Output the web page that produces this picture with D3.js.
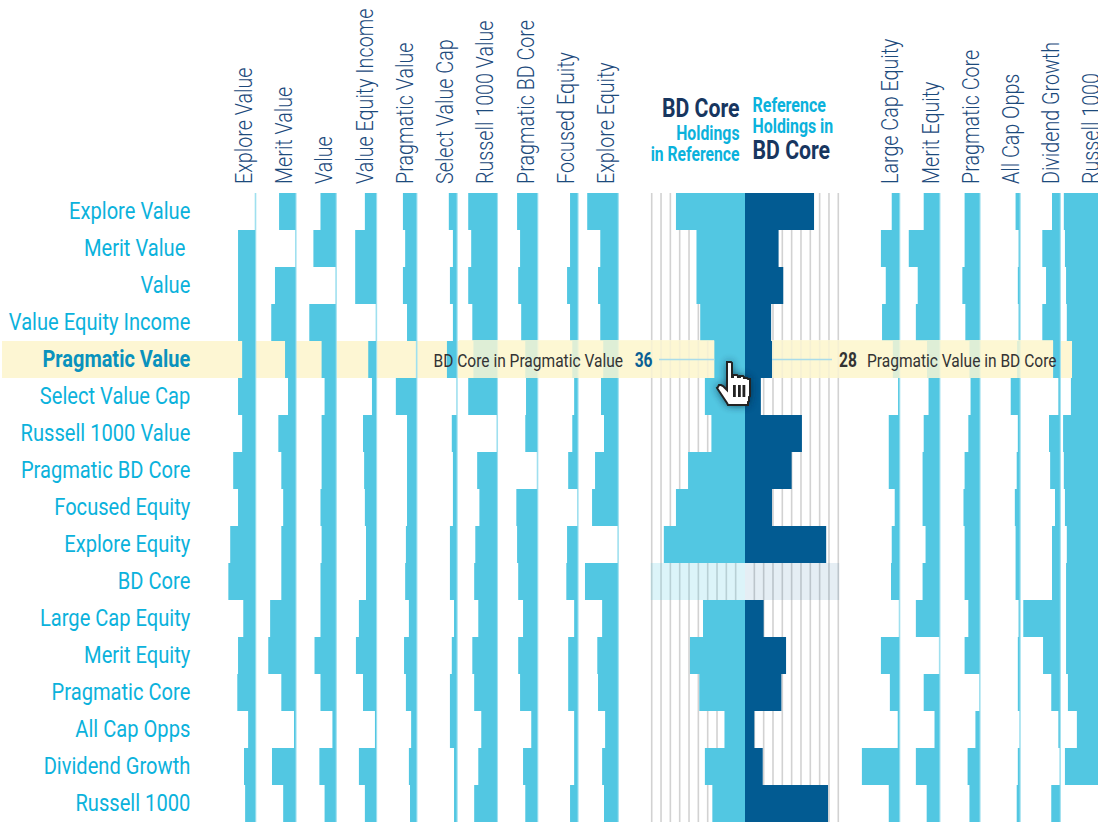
<!DOCTYPE html>
<html><head><meta charset="utf-8">
<script src="https://cdn.jsdelivr.net/npm/d3@7"></script>
<style>
html,body{margin:0;padding:0;background:#fff;overflow:hidden}
svg{display:block;font-family:Roboto,sans-serif}
text{white-space:pre}
</style></head><body>
<svg id="c" width="1098" height="822"></svg>
<script>
const rowNames=["Explore Value","Merit Value ","Value","Value Equity Income","Pragmatic Value","Select Value Cap","Russell 1000 Value","Pragmatic BD Core","Focused Equity","Explore Equity","BD Core","Large Cap Equity","Merit Equity","Pragmatic Core","All Cap Opps","Dividend Growth","Russell 1000"];
const leftColumns=["Explore Value","Merit Value","Value","Value Equity Income","Pragmatic Value","Select Value Cap","Russell 1000 Value","Pragmatic BD Core","Focused Equity","Explore Equity"];
const rightColumns=["Large Cap Equity","Merit Equity","Pragmatic Core","All Cap Opps","Dividend Growth","Russell 1000"];
// each array: overlap % per row, top to bottom
const exploreValue=[0,46,46,46,35,46,35,59,46,67,72,32,46,48,19,30,27];
const meritValue=[44,0,55,65,28,20,46,38,33,38,38,68,73,38,4,63,33];
const valueFund=[41,60,0,71,38,30,38,38,41,38,41,41,57,41,9,44,30];
const valueEquityIncome=[30,56,56,0,21,11,35,32,30,27,27,46,54,35,3,46,30];
const pragmaticValue=[36,30,36,25,0,55,25,25,25,28,30,20,33,28,14,20,17];
const selectValueCap=[21,10,18,10,26,0,13,10,10,18,18,7,13,18,18,7,7];
const russell1000Value=[77,69,77,66,63,77,0,53,47,58,61,50,66,61,42,50,61];
const pragmaticBDCore=[54,46,51,43,32,30,32,0,56,54,51,38,51,46,16,38,32];
const focusedEquity=[20,20,28,20,14,9,14,25,0,28,30,9,25,25,9,9,20];
const exploreEquity=[82,47,53,47,39,45,37,61,69,0,88,42,55,53,34,42,37];
const largeCapEquity=[20,49,36,46,17,3,28,28,12,20,22,0,49,25,4,100,28];
const meritEquity=[42,82,58,63,33,29,42,45,45,37,45,63,0,42,13,63,34];
const pragmaticCore=[40,40,46,38,27,24,30,40,43,40,40,30,40,0,11,32,27];
const allCapOpps=[11,3,5,3,7,24,5,8,13,11,11,3,5,5,0,5,8];
const dividendGrowth=[21,47,37,47,18,4,29,26,13,21,21,98,45,23,4,0,23];
const russell1000=[97,94,91,89,75,78,99,97,94,89,91,91,91,86,62,94,0];
const leftValues=[exploreValue,meritValue,valueFund,valueEquityIncome,pragmaticValue,selectValueCap,russell1000Value,pragmaticBDCore,focusedEquity,exploreEquity];
const rightValues=[largeCapEquity,meritEquity,pragmaticCore,allCapOpps,dividendGrowth,russell1000];
const bdCoreInReference=[74,52,52,48,33,43,36,61,74,87,0,45,59,49,22,43,35];
const referenceInBDCore=[74,36,41,28,29,17,61,50,29,87,0,20,44,39,10,19,89];
const hoverRow="Pragmatic Value", focusRow="BD Core";
const hoverLeftLabel="BD Core in Pragmatic Value", hoverRightLabel="Pragmatic Value in BD Core";
const hoverLeftValue="36", hoverRightValue="28";

const BAR="#52c7e2",DARK="#025b92",LIGHTLINE="#9fe0ef",CYANTXT="#0bb2dc",NAVY="#17365f",GRID="#d2d2d2",YEL="#fdf6d3";
const svg=d3.select("#c");
const y=d3.scaleBand().domain(rowNames).range([193,822]);
const yLabel=d3.scalePoint().domain(rowNames).range([219.4,810.6]);
const xL=d3.scalePoint().domain(leftColumns).range([255.2,617.8]);
const xR=d3.scalePoint().domain(rightColumns).range([899.2,1100]);
const w=d3.scaleLinear().domain([0,100]).range([0,37.3]);
const cx=d3.scaleLinear().domain([-100,100]).range([651.7,838.3]);

function label(g,str,x,yy,opt){
  const o=Object.assign({size:22,sx:.8,fill:"#000",weight:400,anchor:"start",rot:0},opt||{});
  return g.append("text").attr("transform",`translate(${x},${yy})${o.rot?` rotate(${o.rot})`:""} scale(${o.sx},1)`)
    .attr("text-anchor",o.anchor).attr("font-size",o.size).attr("font-weight",o.weight).attr("fill",o.fill).text(str);
}
// highlight band
svg.append("rect").attr("x",2).attr("y",y(hoverRow)).attr("width",1070).attr("height",y.bandwidth()).attr("fill",YEL);
// central grid
const grid=svg.append("g");
grid.selectAll("line").data(cx.ticks(20).filter(d=>d!==0)).join("line")
  .attr("x1",d=>cx(d)).attr("x2",d=>cx(d)).attr("y1",193).attr("y2",822)
  .attr("stroke",GRID).attr("stroke-width",1.6);
// focus row tint
svg.append("rect").attr("x",cx(-100)-1).attr("y",y(focusRow)).attr("width",cx(0)-cx(-100)+1).attr("height",y.bandwidth()).attr("fill",BAR).attr("opacity",.2);
svg.append("rect").attr("x",cx(0)).attr("y",y(focusRow)).attr("width",cx(100)-cx(0)+1).attr("height",y.bandwidth()).attr("fill",DARK).attr("opacity",.1);
// small columns
function col(names,vals,x,off){
  names.forEach((n,i)=>{
    const g=svg.append("g");
    g.append("line").attr("x1",x(n)+.3).attr("x2",x(n)+.3).attr("y1",193).attr("y2",822).attr("stroke",LIGHTLINE).attr("stroke-width",1.6);
    g.selectAll("rect").data(vals[i].map((v,r)=>({v,r:rowNames[r]}))).join("rect")
      .attr("x",d=>x(n)-w(d.v)).attr("y",d=>y(d.r)).attr("width",d=>w(d.v)).attr("height",y.bandwidth()).attr("fill",BAR);
    label(svg,n.trim(),x(n)+off,184,{size:24,sx:.822,weight:300,fill:"#1c4a7c",rot:-90});
  });
}
col(leftColumns,leftValues,xL,-3.5);
col(rightColumns,rightValues,xR,-.8);
// central bars
svg.append("g").selectAll("rect").data(bdCoreInReference.map((v,r)=>({v,r:rowNames[r]}))).join("rect")
  .attr("x",d=>cx(-d.v)).attr("y",d=>y(d.r)).attr("width",d=>cx(0)-cx(-d.v)).attr("height",y.bandwidth()).attr("fill",BAR);
svg.append("g").selectAll("rect").data(referenceInBDCore.map((v,r)=>({v,r:rowNames[r]}))).join("rect")
  .attr("x",cx(0)).attr("y",d=>y(d.r)).attr("width",d=>cx(d.v)-cx(0)).attr("height",y.bandwidth()).attr("fill",DARK);
// hover overlays
const hy=y(hoverRow),hr=hy+y.bandwidth()/2;
const iL=rowNames.indexOf(hoverRow);
svg.append("rect").attr("x",459).attr("y",hy-1).attr("width",cx(-bdCoreInReference[iL])-459).attr("height",y.bandwidth()+1).attr("fill",YEL).attr("opacity",.82);
svg.append("rect").attr("x",cx(referenceInBDCore[iL])).attr("y",hy-1).attr("width",1053-cx(referenceInBDCore[iL])).attr("height",y.bandwidth()+1).attr("fill",YEL).attr("opacity",.82);
svg.append("line").attr("x1",659).attr("x2",cx(-bdCoreInReference[iL])).attr("y1",hr).attr("y2",hr).attr("stroke","#a9dcea").attr("stroke-width",1.4);
svg.append("line").attr("x1",cx(referenceInBDCore[iL])).attr("x2",832).attr("y1",hr).attr("y2",hr).attr("stroke","#a9dcea").attr("stroke-width",1.4);
// row labels
rowNames.forEach(n=>{
  const h=n===hoverRow;
  label(svg,n,190.3,yLabel(n),{size:23.5,sx:h?.85:.856,anchor:"end",fill:h?"#0a92bd":CYANTXT,weight:h?700:400});
});
// hover labels
label(svg,hoverLeftLabel,623,hr+7,{size:19,sx:.818,anchor:"end",fill:"#333"});
label(svg,hoverRightLabel,867,hr+7,{size:19,sx:.818,fill:"#333"});
label(svg,hoverLeftValue,652.5,hr+7.5,{size:20.5,sx:.76,anchor:"end",fill:"#0a5f94",weight:700});
label(svg,hoverRightValue,839,hr+7.5,{size:20.5,sx:.76,fill:"#333",weight:700});
// header
label(svg,"BD Core",739.5,117,{size:25,sx:.85,anchor:"end",fill:NAVY,weight:700});
label(svg,"Holdings",739.5,140,{size:20,sx:.79,anchor:"end",fill:CYANTXT,weight:700});
label(svg,"in Reference",739.5,161,{size:20,sx:.785,anchor:"end",fill:CYANTXT,weight:700});
label(svg,"Reference",752.5,112,{size:20,sx:.8,fill:CYANTXT,weight:700});
label(svg,"Holdings in",752.5,133,{size:20,sx:.795,fill:CYANTXT,weight:700});
label(svg,"BD Core",752.5,159,{size:25,sx:.85,fill:NAVY,weight:700});
// hand cursor
const defs=svg.append("defs");
defs.append("filter").attr("id","blur").attr("x","-60%").attr("y","-60%").attr("width","220%").attr("height","220%")
  .append("feGaussianBlur").attr("stdDeviation",4);
const hand="M727 362h4l1 1v14h1v-2h4l1 1v1h2v-1h3l1 1v1h3l1 1h2v17l-1 1v4l-1 1v3h-20l-1-2-2-3-2-3-2-3-2-3-2-3 1-1 1-2h2l2 1 4 4v-23z";
svg.append("path").attr("d",hand).attr("fill","#00263d").attr("opacity",.9).attr("filter","url(#blur)");
svg.append("path").attr("d",hand).attr("fill","#fff").attr("stroke","#222").attr("stroke-width",2).attr("stroke-linejoin","miter");
svg.append("g").selectAll("rect").data([733,738,742.5]).join("rect").attr("x",d=>d).attr("y",385).attr("width",2.8).attr("height",12).attr("fill","#222");
</script>
</body></html>
